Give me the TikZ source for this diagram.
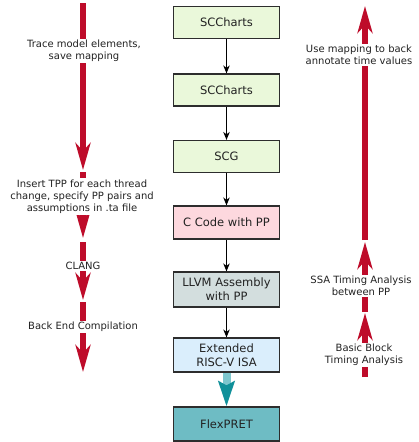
\documentclass[tikz,border=0pt]{standalone}
\usepackage{fontspec}
\setmainfont{DejaVu Sans}
\usetikzlibrary{arrows.meta}
\definecolor{redarrow}{RGB}{190,12,42}
\definecolor{boxgreen}{RGB}{234,248,218}
\definecolor{boxpink}{RGB}{253,216,222}
\definecolor{boxgray}{RGB}{211,222,222}
\definecolor{boxblue}{RGB}{218,238,252}
\definecolor{boxteal}{RGB}{110,188,196}
\definecolor{tealshaft}{RGB}{125,198,206}
\definecolor{tealhead}{RGB}{16,144,154}
\definecolor{txt}{RGB}{34,34,34}
\definecolor{edge}{RGB}{45,45,45}
\begin{document}
\begin{tikzpicture}[x=1pt,y=-1pt,
 box/.style={draw=edge, line width=1.2pt, minimum width=106pt, minimum height=32pt, inner sep=1pt, align=center, font=\fontsize{11.5}{14}\selectfont, text=txt},
 flow/.style={draw=black, line width=1.1pt, -{Stealth[length=8pt,width=6.5pt,inset=2.5pt]}},
 bigred/.style={draw=redarrow, line width=6pt, -{Stealth[length=27pt,width=15pt,inset=8pt]}},
 tealarrow/.style={draw=tealshaft, line width=8pt, -{Stealth[length=25pt,width=16pt,inset=4pt,color=tealhead]}},
 sidelabel/.style={fill=white, inner sep=1.5pt, align=center, font=\fontsize{10}{12}\selectfont, text=txt}]
\useasboundingbox (0,0) rectangle (419,442);

% boxes
\node[box, fill=boxgreen] (b1) at (226.5,22.5) {SCCharts};
\node[box, fill=boxgreen] (b2) at (226.5,90) {SCCharts};
\node[box, fill=boxgreen] (b3) at (226.5,156.5) {SCG};
\node[box, fill=boxpink, minimum height=33pt] (b4) at (226.5,222.5) {C Code with PP};
\node[box, fill=boxgray, minimum height=35pt] (b5) at (226.5,289.5) {LLVM Assembly\\with PP};
\node[box, fill=boxblue, minimum height=34pt] (b6) at (226.5,355) {Extended\\RISC-V ISA};
\node[box, fill=boxteal, minimum height=34pt] (b7) at (226.5,424) {FlexPRET};

\draw[flow] (b1) -- (b2);
\draw[flow] (b2) -- (b3);
\draw[flow] (b3) -- (b4);
\draw[flow] (b4) -- (b5);
\draw[flow] (b5) -- (b6);
\draw[tealarrow] (b6) -- (b7);

% left arrows
\coordinate (l1s) at (83,3);   \coordinate (l1e) at (83,170);
\coordinate (l2s) at (83,172); \coordinate (l2e) at (83,238);
\coordinate (l3s) at (83,242); \coordinate (l3e) at (83,300);
\coordinate (l4s) at (83,302); \coordinate (l4e) at (83,372);
\draw[bigred] (l1s) -- (l1e);
\draw[bigred] (l2s) -- (l2e);
\draw[bigred] (l3s) -- (l3e);
\draw[bigred] (l4s) -- (l4e);
\node[sidelabel] (t1) at (84,51) {Trace model elements,\\save mapping};
\node[sidelabel] (t2) at (82,196.5) {Insert TPP for each thread\\change, specify PP pairs and\\assumptions in .ta file};
\node[sidelabel] (t3) at (83,266) {CLANG};
\node[sidelabel] (t4) at (83,327) {Back End Compilation};

% right arrows
\coordinate (r1s) at (365,240); \coordinate (r1e) at (365,6);
\coordinate (r2s) at (365,312); \coordinate (r2e) at (365,242);
\coordinate (r3s) at (365,377); \coordinate (r3e) at (365,313);
\draw[bigred] (r1s) -- (r1e);
\draw[bigred] (r2s) -- (r2e);
\draw[bigred] (r3s) -- (r3e);
\node[sidelabel] (t5) at (359,55) {Use mapping to back\\annotate time values};
\node[sidelabel] (t6) at (361,286) {SSA Timing Analysis\\between PP};
\node[sidelabel] (t7) at (364,355) {Basic Block\\Timing Analysis};
\end{tikzpicture}
\end{document}
